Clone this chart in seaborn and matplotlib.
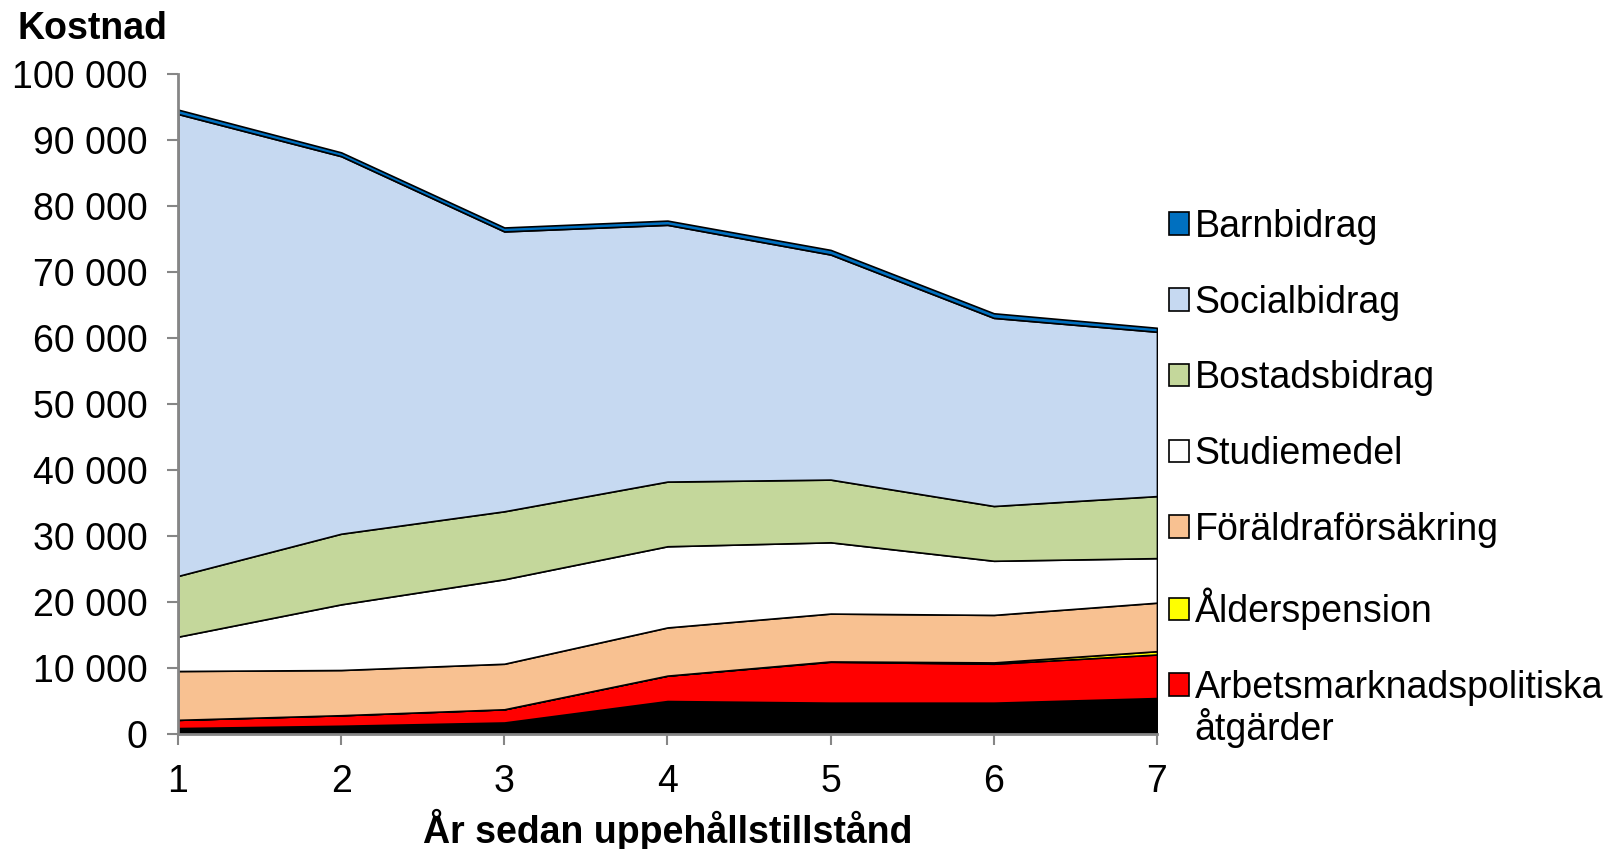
import numpy as np
import pandas as pd
import matplotlib
matplotlib.use("Agg")
import matplotlib.pyplot as plt
import seaborn as sns
from matplotlib.ticker import FuncFormatter

years = [1, 2, 3, 4, 5, 6, 7]

# kronor per år (staplat nedifrån och upp)
ovrigt = [850, 1200, 1700, 4950, 4700, 4700, 5400]
arbetsmarknad = [1250, 1600, 2000, 3850, 6200, 5900, 6600]
alderspension = [0, 0, 0, 0, 50, 200, 500]
foraldraforsakring = [7400, 6850, 6900, 7300, 7250, 7200, 7350]
studiemedel = [5200, 9950, 12800, 12300, 10800, 8200, 6750]
bostadsbidrag = [9200, 10700, 10300, 9800, 9500, 8300, 9400]
socialbidrag = [70000, 57200, 42400, 38900, 34100, 28500, 24900]
barnbidrag = [660, 580, 600, 640, 700, 700, 600]

series = ["Övrigt", "Arbetsmarknadspolitiska", "Ålderspension",
          "Föräldraförsäkring", "Studiemedel", "Bostadsbidrag",
          "Socialbidrag", "Barnbidrag"]
colors = ["#000000", "#ff0000", "#ffff00", "#f8c191", "#ffffff",
          "#c4d79b", "#c6d9f1", "#0070c0"]

df = pd.DataFrame({
    "År": years,
    series[0]: ovrigt,
    series[1]: arbetsmarknad,
    series[2]: alderspension,
    series[3]: foraldraforsakring,
    series[4]: studiemedel,
    series[5]: bostadsbidrag,
    series[6]: socialbidrag,
    series[7]: barnbidrag,
})

sns.set_style("white")
plt.rcParams["font.family"] = ["Liberation Sans", "DejaVu Sans"]
plt.rcParams["text.color"] = "black"
plt.rcParams["axes.labelcolor"] = "black"
plt.rcParams["xtick.labelcolor"] = "black"
plt.rcParams["ytick.labelcolor"] = "black"

FS = 27

fig = plt.figure(figsize=(16.08, 8.49), dpi=100)
ax = fig.add_axes([0.1107, 0.1358, 0.6088, 0.7774])

polys = ax.stackplot(df["År"], *[df[s] for s in series], colors=colors,
                     edgecolor="black", linewidth=1.2, labels=series)

ax.set_xlim(1, 7)
ax.set_ylim(0, 100000)
ax.set_xticks(years)
ax.set_yticks(np.arange(0, 100001, 10000))
ax.yaxis.set_major_formatter(FuncFormatter(lambda v, p: f"{int(v):,}".replace(",", " ")))
ax.tick_params(axis="both", labelsize=FS, length=8, width=1.5, color="#868686",
               direction="out")
ax.tick_params(axis="y", left=True, pad=14)
ax.tick_params(axis="x", bottom=True, pad=14)

sns.despine(ax=ax, top=True, right=True)
for side in ["left", "bottom"]:
    ax.spines[side].set_color("#868686")
    ax.spines[side].set_linewidth(2)

ax.set_xlabel("År sedan uppehållstillstånd", fontsize=FS, fontweight="bold", labelpad=6)
fig.text(0.0108, 0.966, "Kostnad", fontsize=FS, fontweight="bold", va="center", ha="left")

handles = polys[1:][::-1]
labels = series[1:][::-1]
leg = ax.legend(handles, labels, loc="upper left", bbox_to_anchor=(0.985, 0.835),
                frameon=False, fontsize=FS, handlelength=0.55, handleheight=0.55,
                handletextpad=0.15, labelspacing=1.06, borderaxespad=0.3)

# andra raden av sista legendtexten, under första raden
fig.canvas.draw()
bb = leg.get_texts()[-1].get_window_extent()
x0, y0 = fig.transFigure.inverted().transform((bb.x0, bb.y0 - 42))
fig.text(x0, y0, "åtgärder", fontsize=FS, va="bottom", ha="left")

fig.savefig("out.png", dpi=100)
